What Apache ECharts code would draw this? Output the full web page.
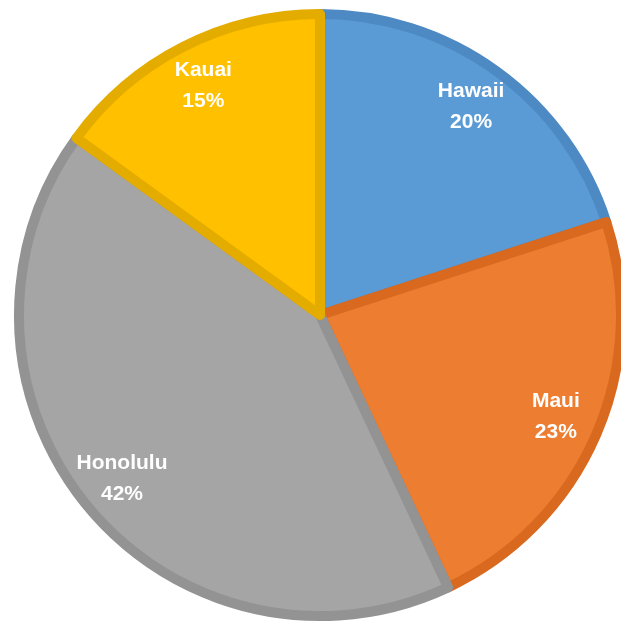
<!DOCTYPE html>
<html>
<head>
<meta charset="utf-8">
<script src="https://cdn.jsdelivr.net/npm/echarts@6/dist/echarts.min.js"></script>
<style>html,body{margin:0;padding:0;background:#fff}#c{width:621px;height:624px}</style>
</head>
<body>
<div id="c"></div>
<script>
const categories = ["Hawaii", "Maui", "Honolulu", "Kauai"];
const values = [20, 23, 42, 15];
const fillColors = ["#5B9BD5", "#ED7D31", "#A5A5A5", "#FFC000"];
const borderColors = ["#4D8AC4", "#D8691F", "#939393", "#E5AC00"];

const chart = echarts.init(document.getElementById('c'));
const center = [320, 315];
const R = 306;
const BW = 10;
chart.setOption({
  animation: false,
  series: [
    {
      type: 'pie',
      center: center,
      radius: [0, R - BW / 2],
      startAngle: 90,
      clockwise: true,
      label: { show: false },
      labelLine: { show: false },
      data: categories.map((n, i) => ({
        name: n, value: values[i],
        itemStyle: { color: fillColors[i], borderColor: borderColors[i], borderWidth: BW }
      }))
    },
    {
      type: 'pie',
      silent: true,
      center: center,
      radius: [R * 0.66, R],
      startAngle: 90,
      clockwise: true,
      itemStyle: { color: 'rgba(0,0,0,0)' },
      label: {
        show: true,
        position: 'inside',
        formatter: p => p.name + '\n' + p.value + '%',
        color: '#ffffff',
        fontFamily: 'Liberation Sans, Arial, sans-serif',
        fontWeight: 'bold',
        fontSize: 21,
        lineHeight: 31
      },
      labelLine: { show: false },
      data: categories.map((n, i) => ({ name: n, value: values[i] }))
    }
  ]
});
</script>
</body>
</html>
